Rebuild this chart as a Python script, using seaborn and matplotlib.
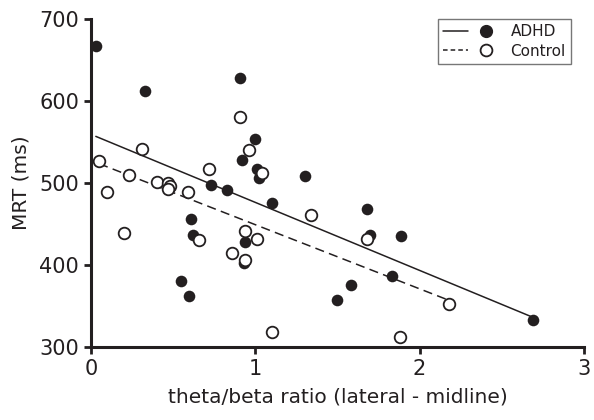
import matplotlib
matplotlib.use("Agg")
import matplotlib.pyplot as plt
from matplotlib.lines import Line2D
from matplotlib.legend_handler import HandlerTuple
import seaborn as sns
import pandas as pd

# theta/beta ratio vs mean reaction time
adhd_x = [0.03, 0.33, 0.91, 1.00, 0.92, 1.01, 1.02, 0.73, 0.83, 1.10, 1.30, 0.61,
          0.62, 0.94, 0.93, 0.55, 0.60, 1.68, 1.70, 1.89, 1.83, 1.58, 1.50, 2.69]
adhd_y = [667, 612, 628, 553, 528, 517, 506, 497, 491, 476, 508, 456,
          437, 428, 402, 380, 362, 468, 437, 435, 386, 376, 357, 333]
ctrl_x = [0.05, 0.10, 0.31, 0.23, 0.20, 0.40, 0.47, 0.48, 0.47, 0.59, 0.72, 0.91,
          0.96, 1.04, 0.66, 0.86, 0.94, 1.01, 0.94, 1.34, 1.68, 1.10, 1.88, 2.18]
ctrl_y = [527, 489, 541, 510, 439, 501, 500, 496, 492, 489, 517, 580,
          540, 512, 430, 414, 441, 431, 406, 461, 431, 318, 312, 352]

adhd = pd.DataFrame({"ratio": adhd_x, "mrt": adhd_y})
ctrl = pd.DataFrame({"ratio": ctrl_x, "mrt": ctrl_y})

sns.set_style("ticks")
plt.rcParams["font.family"] = ["DejaVu Sans"]
ink = "#231f20"

fig, ax = plt.subplots(figsize=(5.94, 4.2), dpi=100)
fig.subplots_adjust(left=0.153, right=0.983, bottom=0.174, top=0.955)

sns.regplot(data=adhd, x="ratio", y="mrt", ax=ax, ci=None, truncate=True,
            scatter_kws=dict(s=70, color=ink, alpha=1, linewidths=0, clip_on=False, zorder=3),
            line_kws=dict(color=ink, lw=1.1, ls="-"))
sns.regplot(data=ctrl, x="ratio", y="mrt", ax=ax, ci=None, truncate=True,
            scatter_kws=dict(s=70, facecolors="white", edgecolors=ink, alpha=1,
                             linewidths=1.3, clip_on=False, zorder=3),
            line_kws=dict(color=ink, lw=1.1, ls=(0, (6, 3.5))))

ax.set_xlim(0, 3)
ax.set_ylim(300, 700)
ax.set_xticks([0, 1, 2, 3])
ax.set_yticks([300, 400, 500, 600, 700])
ax.set_xlabel("theta/beta ratio (lateral - midline)", fontsize=14.5, color=ink, labelpad=6)
ax.set_ylabel("MRT (ms)", fontsize=14.5, color=ink, labelpad=6)
ax.tick_params(labelsize=15, colors=ink, width=2, length=5)
sns.despine(ax=ax)
for side in ["left", "bottom"]:
    ax.spines[side].set_linewidth(2.2)
    ax.spines[side].set_color(ink)

h_adhd = (Line2D([], [], color=ink, lw=1.1),
          Line2D([], [], color=ink, marker="o", ls="none", markersize=8.5))
h_ctrl = (Line2D([], [], color=ink, lw=1.1, ls=(0, (3, 2))),
          Line2D([], [], color=ink, marker="o", ls="none", markersize=8.5,
                 markerfacecolor="white", markeredgewidth=1.3))
leg = ax.legend([h_adhd, h_ctrl], ["ADHD", "Control"],
                handler_map={tuple: HandlerTuple(ndivide=2, pad=0.4)},
                loc="upper right", bbox_to_anchor=(0.974, 1.0), borderaxespad=0,
                fontsize=11, handlelength=3.6, frameon=True, fancybox=False,
                edgecolor="#555555", labelspacing=0.3, borderpad=0.35)
leg.get_frame().set_linewidth(1.0)
for t in leg.get_texts():
    t.set_color(ink)

fig.savefig("out.png", dpi=100)
